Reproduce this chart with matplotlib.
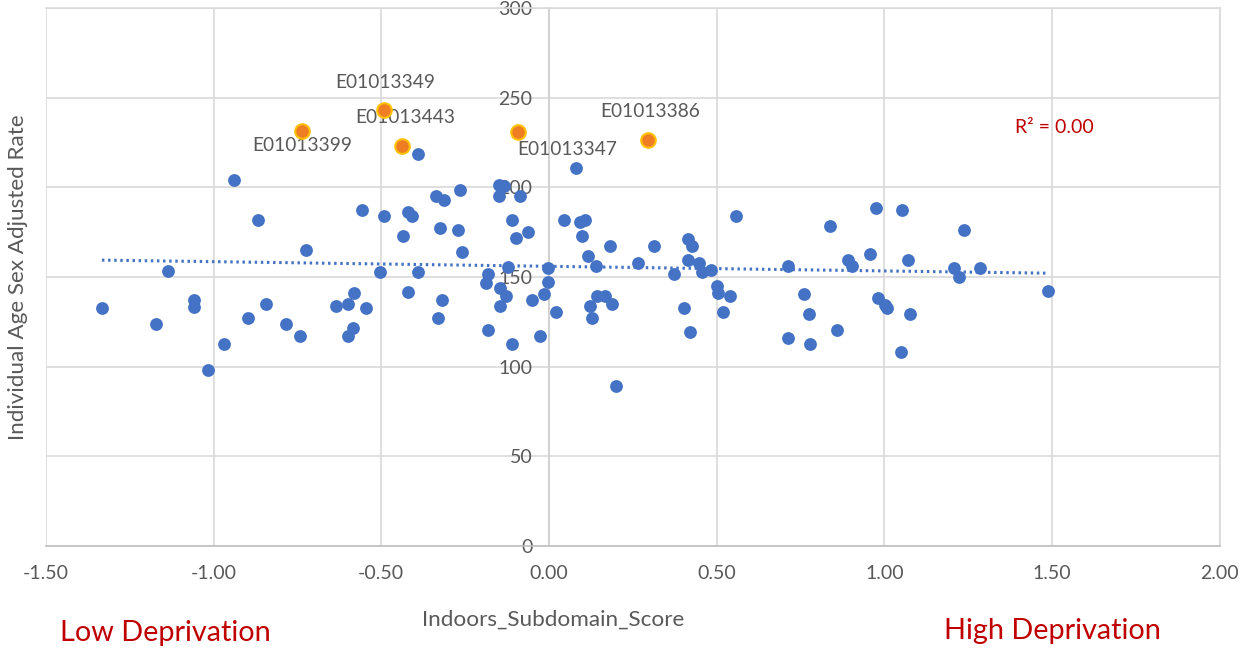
import matplotlib.pyplot as plt
import numpy as np

plt.rcParams['font.family'] = ['Lato', 'DejaVu Sans']
plt.rcParams['axes.unicode_minus'] = False

# blue points: Indoors_Subdomain_Score vs rate
score = [-1.333, -1.173, -1.135, -1.058, -1.058, -1.017, -0.969, -0.939, -0.897, -0.869,
         -0.843, -0.785, -0.742, -0.725, -0.636, -0.598, -0.581, -0.583, -0.598, -0.558,
         -0.546, -0.504, -0.493, -0.434, -0.421, -0.409, -0.420, -0.391, -0.391, -0.337,
         -0.312, -0.325, -0.318, -0.331, -0.270, -0.264, -0.259, -0.181, -0.189, -0.182,
         -0.150, -0.135, -0.150, -0.146, -0.145, -0.129, -0.121, -0.111, -0.110, -0.098,
         -0.086, -0.062, -0.051, -0.027, -0.015, -0.002, -0.002, 0.022, 0.046, 0.080,
         0.094, 0.107, 0.099, 0.117, 0.122, 0.129, 0.141, 0.142, 0.167, 0.183,
         0.189, 0.200, 0.266, 0.313, 0.374, 0.403, 0.415, 0.428, 0.415, 0.420,
         0.448, 0.457, 0.482, 0.500, 0.505, 0.518, 0.541, 0.558, 0.714, 0.714,
         0.760, 0.775, 0.779, 0.838, 0.858, 0.892, 0.904, 0.957, 0.976, 0.982,
         1.002, 1.007, 1.049, 1.053, 1.071, 1.078, 1.208, 1.222, 1.238, 1.285,
         1.489]
rate = [132.6, 123.8, 153.5, 137.3, 133.5, 98.0, 112.7, 204.1, 127.0, 181.8,
        134.8, 123.8, 117.1, 165.1, 133.9, 134.8, 140.9, 121.4, 117.1, 187.4,
        132.6, 152.8, 184.0, 172.9, 186.5, 184.0, 141.5, 152.8, 218.4, 195.4,
        193.0, 177.2, 137.0, 127.0, 176.2, 198.5, 164.0, 151.7, 146.9, 120.3,
        201.3, 201.0, 195.2, 144.1, 133.9, 139.6, 155.8, 112.7, 181.8, 171.6,
        195.2, 175.1, 137.0, 117.1, 140.5, 155.2, 147.2, 130.3, 181.8, 210.6,
        180.9, 181.8, 172.9, 161.7, 134.0, 127.0, 156.2, 139.4, 139.4, 167.3,
        135.0, 89.4, 157.7, 167.3, 151.5, 132.6, 171.0, 167.0, 159.5, 119.4,
        157.7, 153.0, 153.9, 145.2, 141.3, 130.3, 139.4, 184.0, 156.2, 115.8,
        140.4, 129.2, 112.5, 178.5, 120.3, 159.5, 156.2, 162.7, 188.3, 138.5,
        134.4, 132.6, 108.2, 187.4, 159.5, 129.4, 154.9, 150.2, 176.2, 154.9,
        142.4]

# highlighted outliers
hi_codes = ['E01013399', 'E01013349', 'E01013443', 'E01013347', 'E01013386']
hi_score = [-0.736, -0.492, -0.438, -0.092, 0.295]
hi_rate = [231.5, 243.2, 223.1, 230.9, 226.4]
hi_offsets = [(0, -15), (1, 27), (3, 28), (49, -18), (2, 28)]

fig = plt.figure(figsize=(12.42, 6.48), dpi=100)
ax = fig.add_axes([0.037, 0.1574, 0.945, 0.8303])

grey = '#595959'
ax.scatter(score, rate, s=85, color='#4472C4', zorder=3, linewidths=0)
ax.scatter(hi_score, hi_rate, s=110, color='#EE7D24', edgecolors='#FFC000',
           linewidths=1.5, zorder=4)
for code, x, y, off in zip(hi_codes, hi_score, hi_rate, hi_offsets):
    ax.annotate(code, (x, y), xytext=off, textcoords='offset pixels',
                ha='center', va='center', fontsize=13.8, color=grey)

# linear trendline
all_x = np.array(score + hi_score)
all_y = np.array(rate + hi_rate)
k, b = np.polyfit(all_x, all_y, 1)
xl = np.array([all_x.min(), all_x.max()])
ax.plot(xl, k * xl + b, color='#4472C4', linewidth=2.2, linestyle=(0, (0.8, 1.2)), zorder=2)

ax.set_xlim(-1.5, 2.0)
ax.set_ylim(0, 300)
ax.set_xticks(np.arange(-1.5, 2.01, 0.5))
ax.set_yticks(np.arange(0, 301, 50))
ax.set_xticklabels([f'{v:.2f}' for v in np.arange(-1.5, 2.01, 0.5)])

ax.grid(True, color='#d9d9d9', linewidth=1.2)
ax.set_axisbelow(True)
ax.spines['left'].set_position(('data', 0))
ax.spines['left'].set_color('#d0d0d0')
ax.spines['bottom'].set_color('#bfbfbf')
ax.spines['top'].set_color('#d9d9d9')
ax.spines['right'].set_color('#d9d9d9')
for sp in ax.spines.values():
    sp.set_linewidth(1.2)
ax.tick_params(axis='both', length=0, labelsize=14, labelcolor=grey)
ax.tick_params(axis='y', pad=12)
ax.tick_params(axis='x', pad=14)

ax.set_xlabel('Indoors_Subdomain_Score', fontsize=16.2, color=grey, va='center')
ax.xaxis.set_label_coords(0.4325, -0.1375)
ax.set_ylabel('Individual Age Sex Adjusted Rate', fontsize=16.2, color=grey, va='center')
ax.yaxis.set_label_coords(-0.0238, 0.5)

ax.text(0.8595, 0.7775, 'R² = 0.00', transform=ax.transAxes, fontsize=14,
        color='#C00000', ha='center', va='center')

fig.text(0.133, 0.023, 'Low Deprivation', fontsize=20.8, color='#C00000', ha='center', va='center')
fig.text(0.847, 0.026, 'High Deprivation', fontsize=20.8, color='#C00000', ha='center', va='center')

fig.savefig('out.png', dpi=100)
